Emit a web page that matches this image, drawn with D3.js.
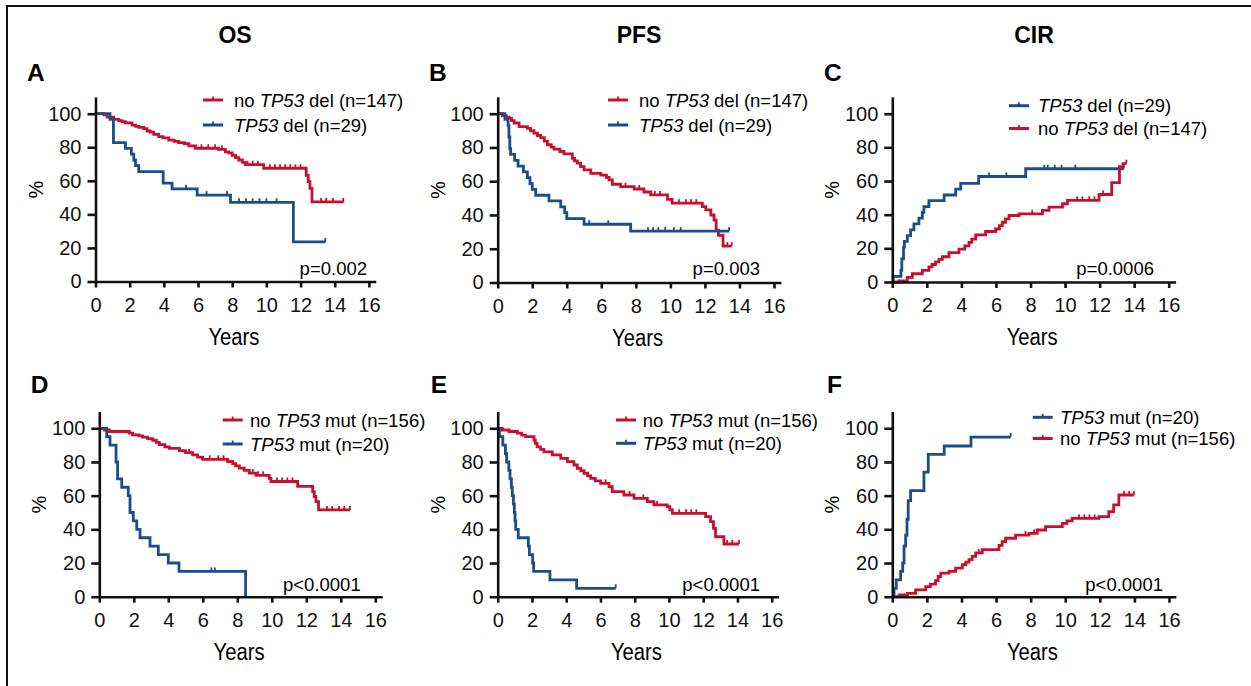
<!DOCTYPE html>
<html>
<head>
<meta charset="utf-8">
<script src="https://cdn.jsdelivr.net/npm/d3@7"></script>
<style>
  body { margin: 0; background: #fff; }
  svg { display: block; font-family: "Liberation Sans", Arial, sans-serif; }
</style>
</head>
<body>
<div id="chart"></div>
<script>
// ---- data: [years, %] step points ----
const xTicks = [0, 2, 4, 6, 8, 10, 12, 14, 16]
const yTicks = [0, 20, 40, 60, 80, 100]

// A - OS by TP53 del
const osNoDel = [[0,100],[0.49,99.3],[0.68,97.9],[1.07,96.6],[1.36,95.9],[1.55,95.2],[1.75,94.5],[2.14,93.2],[2.35,92.5],[2.53,91.8],[2.83,91.1],[3.02,89.7],[3.2,89.0],[3.41,87.7],[3.7,86.3],[3.95,85.6],[4.29,84.2],[4.6,83.5],[4.87,82.8],[5.2,82.1],[5.46,80.8],[5.85,79.4],[7.2,78.7],[7.6,77.3],[7.8,76.6],[8.0,75.2],[8.2,73.8],[8.38,72.4],[8.6,71.0],[8.77,69.6],[9.84,67.5],[12.33,63.3],[12.45,59.5],[12.55,55.5],[12.67,47.4],[14.52,47.4]]
const osNoDelCensor = [6.2,6.6,7.0,7.4,8.9,9.2,9.5,10.2,10.5,10.8,11.1,11.4,11.7,12.0,13.2,13.5,13.9,14.5]
const osDel = [[0,100],[0.85,96.6],[1.05,82.8],[1.75,79.3],[2.1,75.9],[2.24,72.4],[2.34,69.0],[2.53,65.5],[3.96,58.6],[4.48,55.2],[5.95,51.5],[7.9,47.2],[11.58,23.6],[13.45,23.6]]
const osDelCensor = [5.3,6.5,7.7,8.4,8.8,9.2,9.6,10.0,10.6,13.45]

// B - PFS by TP53 del
const pfsNoDel = [[0,100],[0.27,98.8],[0.5,98.0],[0.66,97.2],[0.8,95.9],[0.95,94.5],[1.24,92.4],[1.72,91.3],[1.9,89.9],[2.1,88.5],[2.3,87.1],[2.49,85.8],[2.7,83.7],[2.88,81.6],[3.1,80.2],[3.26,79.0],[3.6,77.6],[3.84,76.2],[4.32,73.5],[4.45,72.1],[4.61,70.7],[4.8,68.7],[5.0,66.7],[5.39,64.7],[5.97,63.6],[6.3,62.2],[6.45,60.8],[6.64,58.2],[7.12,56.8],[7.9,55.4],[8.47,53.6],[8.86,51.9],[9.83,49.3],[10.1,47.0],[11.85,45.0],[12.05,43.0],[12.34,40.0],[12.53,37.0],[12.65,31.0],[12.78,28.0],[13.05,21.5],[13.55,21.5]]
const pfsNoDelCensor = [7.4,8.2,9.1,9.4,10.5,10.9,11.2,11.5,13.3,13.55]
const pfsDel = [[0,100],[0.42,96.6],[0.6,93.1],[0.65,86.2],[0.7,79.3],[0.75,75.9],[0.98,72.4],[1.18,69.0],[1.49,65.5],[1.72,62.1],[1.87,58.6],[2.0,55.2],[2.2,51.7],[2.97,48.3],[3.65,44.8],[3.88,41.4],[4.0,37.9],[5.0,34.5],[7.7,30.4],[13.4,30.4]]
const pfsDelCensor = [5.3,6.4,8.7,9.0,9.3,9.7,10.2,10.6,13.4]

// C - CIR by TP53 del
const cirDel = [[0,0],[0.05,3.4],[0.5,6.9],[0.55,13.8],[0.65,20.7],[0.7,24.1],[0.87,27.6],[1.06,31.0],[1.25,34.5],[1.54,37.9],[1.74,41.4],[1.83,44.8],[2.12,48.3],[3.0,51.7],[3.67,55.2],[3.96,58.6],[5.0,62.7],[7.72,67.3],[13.4,67.3]]
const cirDelCensor = [5.6,6.6,8.8,9.0,9.4,9.8,10.6,13.4]
const cirNoDel = [[0,0],[0.39,0.7],[0.87,2.8],[1.16,4.9],[1.74,6.9],[2.12,9.0],[2.3,10.4],[2.5,12.0],[2.7,13.5],[2.9,15.0],[3.28,17.5],[3.86,19.5],[4.2,21.5],[4.44,23.5],[4.6,25.5],[4.83,28.0],[5.4,30.0],[5.98,31.5],[6.2,33.5],[6.37,35.5],[6.55,37.5],[6.76,39.5],[7.34,40.5],[8.69,42.5],[9.07,44.5],[9.85,46.5],[10.14,48.5],[11.97,52.0],[12.7,59.0],[13.15,68.5],[13.35,70.3],[13.55,70.3]]
const cirNoDelCensor = [8.1,10.7,11.0,11.4,11.7,12.2,13.55]

// D - OS by TP53 mut
const osNoMut = [[0,100],[0.29,99.0],[0.58,98.1],[1.74,97.1],[1.93,96.1],[2.3,95.5],[2.51,94.8],[2.8,93.9],[3.09,92.9],[3.3,91.6],[3.48,90.3],[3.8,89.0],[4.06,88.1],[4.64,86.8],[5.0,85.5],[5.41,84.2],[5.7,82.9],[5.99,81.6],[7.44,80.3],[7.73,79.0],[7.9,77.7],[8.12,76.4],[8.4,75.0],[8.7,73.4],[9.08,72.1],[9.85,70.3],[9.95,68.4],[11.5,65.5],[12.37,62.4],[12.46,59.5],[12.56,56.5],[12.71,51.5],[14.53,51.5]]
const osNoMutCensor = [5.2,6.4,6.9,7.2,8.9,9.2,9.5,10.3,10.6,10.9,11.2,13.2,13.5,13.9,14.2,14.53]
const osMut = [[0,100],[0.43,95],[0.62,90],[0.97,80],[1.06,70],[1.3,65],[1.68,60],[1.78,50],[1.97,45],[2.17,40],[2.36,35],[2.94,30],[3.42,25],[4.0,20],[4.62,15],[8.48,0]]
const osMutCensor = [6.5,6.7]

// E - PFS by TP53 mut
const pfsNoMut = [[0,100],[0.27,99.0],[0.66,98.1],[1.15,97.1],[1.4,96.0],[1.63,95.0],[2.12,93.0],[2.2,91.0],[2.3,89.0],[2.5,87.5],[2.7,86.0],[3.19,84.2],[3.68,82.2],[4.07,80.2],[4.45,78.2],[4.65,76.2],[4.85,74.8],[5.04,73.3],[5.25,71.8],[5.43,70.3],[5.7,68.8],[6.01,67.3],[6.5,65.3],[6.69,62.4],[7.37,60.4],[7.96,58.4],[8.74,56.4],[9.12,54.5],[9.9,53.5],[10.05,51.5],[10.2,49.5],[12.14,47.5],[12.43,44.6],[12.6,40.6],[12.72,35.6],[13.21,31.3],[14.09,31.3]]
const pfsNoMutCensor = [6.3,7.7,8.5,9.3,10.6,11.0,11.3,11.6,13.4,13.7,14.09]
const pfsMut = [[0,100],[0.1,95],[0.3,90],[0.45,85],[0.52,80],[0.65,75],[0.72,70],[0.8,65],[0.85,60],[0.92,55],[0.97,50],[1.01,45],[1.05,40],[1.2,35],[1.79,30],[1.85,25],[2.04,20],[2.1,15],[3.05,10],[4.61,5],[6.89,5]]
const pfsMutCensor = [6.89]

// F - CIR by TP53 mut
const cirMut = [[0,0],[0.1,5],[0.23,10],[0.48,15],[0.6,20],[0.68,30],[0.77,36.5],[0.85,46],[0.92,57],[1.06,63],[1.83,74],[2.08,84.5],[3.0,89.5],[4.55,94.8],[6.84,94.8]]
const cirMutCensor = [6.84]
const cirNoMut = [[0,0],[0.39,1],[0.87,2],[1.35,4],[1.93,6],[2.2,7.5],[2.5,9.5],[2.65,12],[2.8,14],[3.28,15],[3.66,17],[4.05,19],[4.25,20.5],[4.43,22],[4.62,24],[4.82,26],[5.2,28],[6.17,30.5],[6.35,32.7],[6.55,34.7],[7.13,36.6],[7.9,37.6],[8.38,39.6],[8.86,41.6],[9.83,43.6],[10.1,45],[10.4,46.5],[11.95,47.5],[12.52,50.5],[12.8,54.5],[13.1,60.4],[13.97,60.4]]
const cirNoMutCensor = [5.0,7.7,8.2,10.8,11.1,11.4,11.7,13.4,13.7,13.97]

const red = "#c8102e"
const blue = "#1b4d89"

// series: label parts [before, italic, after]
const panels = [
  {letter: "A", title: "OS", pval: "p=0.002",
   series: [{d: osNoDel, c: osNoDelCensor, color: red, label: ["no ", "TP53", " del (n=147)"]},
            {d: osDel, c: osDelCensor, color: blue, label: ["", "TP53", " del (n=29)"]}]},
  {letter: "B", title: "PFS", pval: "p=0.003",
   series: [{d: pfsNoDel, c: pfsNoDelCensor, color: red, label: ["no ", "TP53", " del (n=147)"]},
            {d: pfsDel, c: pfsDelCensor, color: blue, label: ["", "TP53", " del (n=29)"]}]},
  {letter: "C", title: "CIR", pval: "p=0.0006",
   series: [{d: cirDel, c: cirDelCensor, color: blue, label: ["", "TP53", " del (n=29)"]},
            {d: cirNoDel, c: cirNoDelCensor, color: red, label: ["no ", "TP53", " del (n=147)"]}]},
  {letter: "D", title: "", pval: "p<0.0001",
   series: [{d: osNoMut, c: osNoMutCensor, color: red, label: ["no ", "TP53", " mut (n=156)"]},
            {d: osMut, c: osMutCensor, color: blue, label: ["", "TP53", " mut (n=20)"]}]},
  {letter: "E", title: "", pval: "p<0.0001",
   series: [{d: pfsNoMut, c: pfsNoMutCensor, color: red, label: ["no ", "TP53", " mut (n=156)"]},
            {d: pfsMut, c: pfsMutCensor, color: blue, label: ["", "TP53", " mut (n=20)"]}]},
  {letter: "F", title: "", pval: "p<0.0001",
   series: [{d: cirMut, c: cirMutCensor, color: blue, label: ["", "TP53", " mut (n=20)"]},
            {d: cirNoMut, c: cirNoMutCensor, color: red, label: ["no ", "TP53", " mut (n=156)"]}]}
]

// ---- layout (pixel positions of each panel) ----
const layout = [
  {ox: 95.5, w16: 273.4, y0: 281.5, y100: 113.7, titleX: 235, letterX: 27, letterY: 81, legLineX: 203, legTextX: 234, legY: [100, 125], pX: 367, pY: 275},
  {ox: 497.7, w16: 276.3, y0: 282.5, y100: 113.7, titleX: 639, letterX: 429, letterY: 81, legLineX: 608, legTextX: 639, legY: [100, 125], pX: 760, pY: 275},
  {ox: 892.3, w16: 276.4, y0: 282, y100: 113.7, titleX: 1034, letterX: 824, letterY: 81, legLineX: 1009, legTextX: 1038, legY: [105.7, 128.5], pX: 1154, pY: 275},
  {ox: 99.3, w16: 276, y0: 596.7, y100: 428.3, titleX: 0, letterX: 30.7, letterY: 393, legLineX: 222.7, legTextX: 250, legY: [420, 444], pX: 360.7, pY: 591},
  {ox: 497.7, w16: 274, y0: 596.7, y100: 428.3, titleX: 0, letterX: 430.7, letterY: 393, legLineX: 616, legTextX: 642.7, legY: [420, 443.3], pX: 760, pY: 591},
  {ox: 892.3, w16: 276.7, y0: 596.7, y100: 428.3, titleX: 0, letterX: 827, letterY: 393, legLineX: 1032.7, legTextX: 1060, legY: [417.3, 438.5], pX: 1163, pY: 591}
]

const svg = d3.select('#chart')
    .append('svg')
    .attr('width', 1251)
    .attr('height', 686)

svg.append('rect').attr('width', 1251).attr('height', 686).attr('fill', '#fff')

// frame
svg.append('path')
    .attr('d', 'M7,686 L7,6 L1251,6')
    .attr('fill', 'none')
    .attr('stroke', '#111')
    .attr('stroke-width', 2)

function stepValue(data, t) {
    let v = data[0][1]
    data.forEach(p => { if (p[0] <= t) v = p[1] })
    return v
}

panels.forEach((p, i) => {
    const L = layout[i]
    const x = d3.scaleLinear().domain([0, 16]).range([L.ox, L.ox + L.w16])
    const y = d3.scaleLinear().domain([0, 100]).range([L.y0, L.y100])

    const g = svg.append('g')

    // title + letter
    if (p.title) {
        g.append('text')
            .attr('x', L.titleX).attr('y', 43)
            .attr('text-anchor', 'middle')
            .attr('font-weight', 'bold')
            .attr('font-size', 23)
            .text(p.title)
    }
    g.append('text')
        .attr('x', L.letterX).attr('y', L.letterY)
        .attr('font-weight', 'bold')
        .attr('font-size', 24.5)
        .text(p.letter)

    // curves
    const line = d3.line()
        .x(d => x(d[0]))
        .y(d => y(d[1]))
        .curve(d3.curveStepAfter)

    p.series.forEach(s => {
        g.append('path')
            .attr('d', line(s.d))
            .attr('fill', 'none')
            .attr('stroke', s.color)
            .attr('stroke-width', 2.8)

        g.selectAll(null)
            .data(s.c)
            .join('line')
            .attr('x1', d => x(d)).attr('x2', d => x(d))
            .attr('y1', d => y(stepValue(s.d, d)) - 4)
            .attr('y2', d => y(stepValue(s.d, d)))
            .attr('stroke', s.color)
            .attr('stroke-width', 1.8)
    })

    // axes
    const yAxis = g.append('g')
        .attr('transform', `translate(${L.ox},0)`)
        .call(d3.axisLeft(d3.scaleLinear().domain([0, 110]).range([L.y0, y(110)]))
            .tickValues(yTicks).tickSize(8).tickPadding(6).tickSizeOuter(0))
    const xAxis = g.append('g')
        .attr('transform', `translate(0,${L.y0})`)
        .call(d3.axisBottom(d3.scaleLinear().domain([0, 16.4]).range([L.ox, x(16.4)]))
            .tickValues(xTicks).tickSize(6).tickPadding(10).tickSizeOuter(0))

    ;[yAxis, xAxis].forEach(a => {
        a.select('.domain').attr('stroke', '#111').attr('stroke-width', 2.6)
        a.selectAll('.tick line').attr('stroke', '#111').attr('stroke-width', 2.6)
        a.selectAll('.tick text')
            .attr('font-size', 20)
            .attr('font-family', '"Liberation Sans", Arial, sans-serif')
            .attr('fill', '#111')
    })

    // axis titles
    g.append('text')
        .attr('transform', `translate(${L.ox - 53},${(L.y0 + L.y100) / 2 - 8}) rotate(-90)`)
        .attr('text-anchor', 'middle')
        .attr('font-size', 20)
        .text('%')
    g.append('text')
        .attr('x', x(8.1)).attr('y', L.y0 + 63)
        .attr('text-anchor', 'middle')
        .attr('font-size', 23.5)
        .attr('textLength', 51)
        .attr('lengthAdjust', 'spacingAndGlyphs')
        .text('Years')

    // p value
    g.append('text')
        .attr('x', L.pX).attr('y', L.pY)
        .attr('text-anchor', 'end')
        .attr('font-size', 18.5)
        .text(p.pval)

    // legend
    p.series.forEach((s, k) => {
        const ly = L.legY[k]
        g.append('line')
            .attr('x1', L.legLineX).attr('x2', L.legLineX + 20)
            .attr('y1', ly).attr('y2', ly)
            .attr('stroke', s.color).attr('stroke-width', 3)
        g.append('line')
            .attr('x1', L.legLineX + 10).attr('x2', L.legLineX + 10)
            .attr('y1', ly - 3.5).attr('y2', ly)
            .attr('stroke', s.color).attr('stroke-width', 1.8)
        const t = g.append('text')
            .attr('x', L.legTextX).attr('y', ly + 6.5)
            .attr('font-size', 18.5)
        t.append('tspan').text(s.label[0])
        t.append('tspan').attr('font-style', 'italic').text(s.label[1])
        t.append('tspan').text(s.label[2])
    })
})
</script>
</body>
</html>
